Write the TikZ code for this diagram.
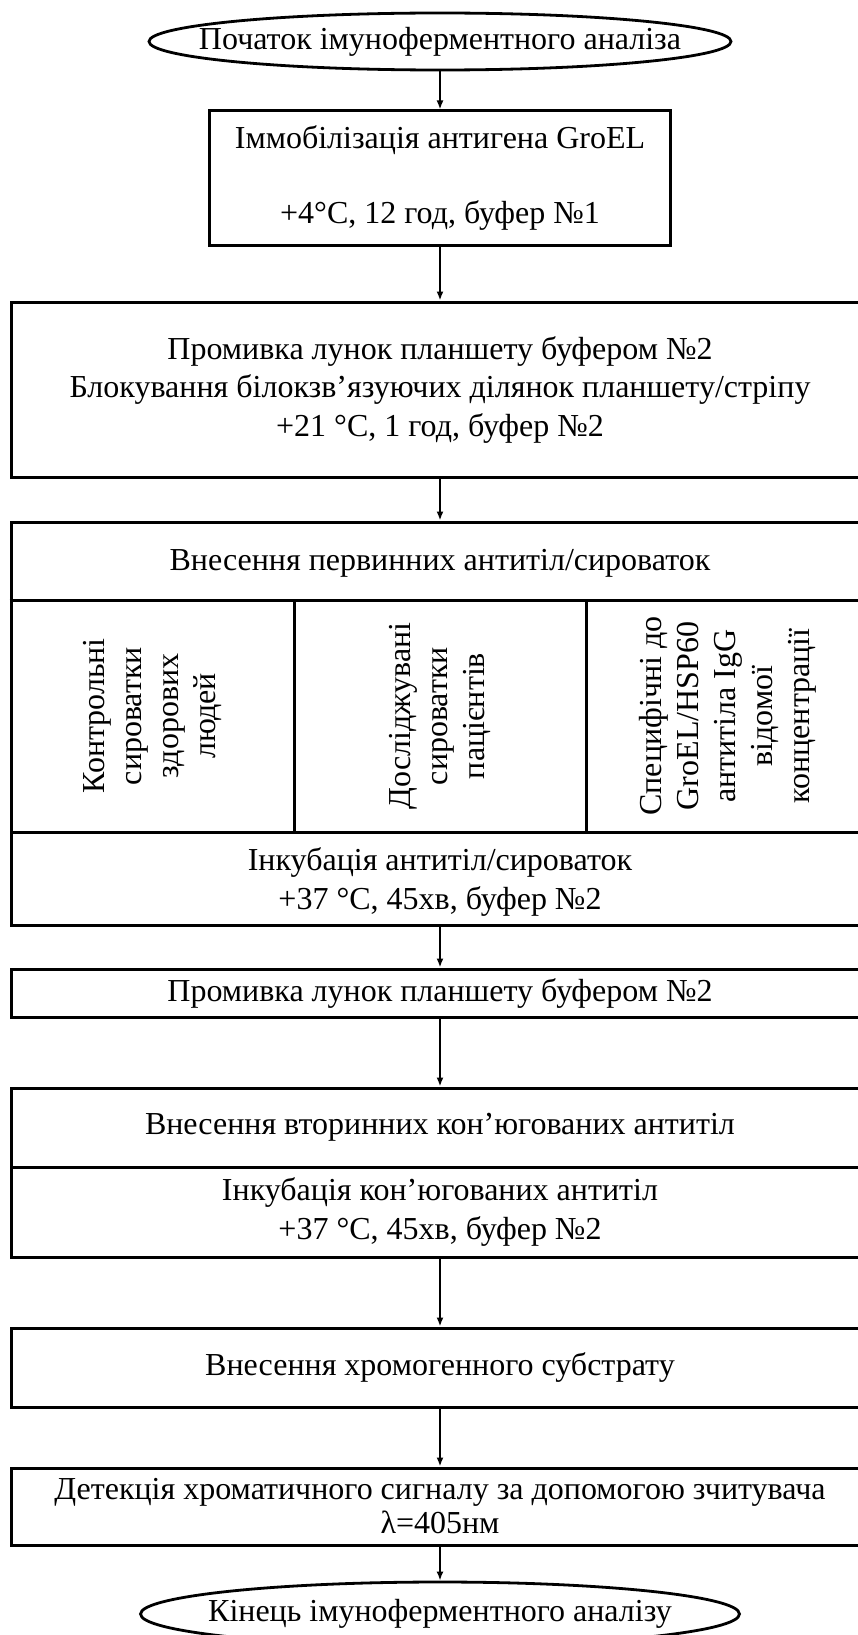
\documentclass[tikz,border=0pt]{standalone}
\usepackage{fontspec}
\setmainfont{Liberation Serif}
\usetikzlibrary{shapes.geometric,arrows.meta}
\begin{document}
\begin{tikzpicture}[x=1pt,y=-1pt,
  box/.style={draw, line width=3pt, inner sep=0pt, align=center, font=\fontsize{32}{38.5}\selectfont},
  oval/.style={draw, ellipse, line width=2.8pt, inner sep=0pt, font=\fontsize{32}{36}\selectfont},
  arr/.style={line width=1.8pt, -{Latex[length=9pt,width=7pt]}},
  txt/.style={inner sep=0pt, align=center, font=\fontsize{32}{39}\selectfont},
  col/.style={draw, line width=3pt, inner sep=0pt, align=center, rotate=90, font=\fontsize{32}{37}\selectfont}
]
\fill[white] (0,0) rectangle (857,1635);
\useasboundingbox (0,0) rectangle (857,1635);

\node[oval, minimum width=582pt, minimum height=57pt] (start) at (440,41.5)
  {\makebox[0pt]{Початок імуноферментного аналіза}};

\node[box, minimum width=461pt, minimum height=134pt] (b1) at (440,178)
  {Іммобілізація антигена GroEL\\[37pt] +4°C, 12 год, буфер №1};

\node[box, minimum width=858pt, minimum height=175pt] (b2) at (440,389.5)
  {Промивка лунок планшету буфером №2\\ Блокування білокзв’язуючих ділянок планшету/стріпу\\ +21 °C, 1 год, буфер №2};

\node[box, minimum width=858pt, minimum height=403pt] (b3) at (440,723.5) {};
\node[txt] (t3) at (440,563) {Внесення первинних антитіл/сироваток};
\draw[line width=3pt] (b3.west |- 0,600) -- (b3.east |- 0,600);
\node[col, minimum width=232pt, minimum height=283pt] (c1) at (152.5,716)
  {Контрольні\\ сироватки\\ здорових\\ людей};
\node[col, minimum width=232pt, minimum height=292pt] (c2) at (440,716)
  {Досліджувані\\ сироватки\\ пацієнтів};
\node[col, minimum width=232pt, minimum height=283pt] (c3) at (727.5,716)
  {Специфічні до\\ GroEL/HSP60\\ антитіла IgG\\ відомої\\ концентрації};
\node[txt] (t3b) at (440,882) {Інкубація антитіл/сироваток\\ +37 °C, 45хв, буфер №2};

\node[box, minimum width=858pt, minimum height=48pt] (b4) at (440,993)
  {Промивка лунок планшету буфером №2};

\node[box, minimum width=858pt, minimum height=79pt] (b5) at (440,1127.5)
  {Внесення вторинних кон’югованих антитіл};

\node[box, minimum width=858pt, minimum height=90pt] (b6) at (440,1212)
  {Інкубація кон’югованих антитіл\\ +37 °C, 45хв, буфер №2};

\node[box, minimum width=858pt, minimum height=79pt] (b7) at (440,1367.5)
  {Внесення хромогенного субстрату};

\node[box, minimum width=858pt, minimum height=77pt, font=\fontsize{32}{34}\selectfont] (b8) at (440,1506.5)
  {Детекція хроматичного сигналу за допомогою зчитувача\\ λ=405нм};

\node[oval, minimum width=599pt, minimum height=64pt] (end) at (440,1614)
  {\makebox[0pt]{Кінець імуноферментного аналізу}};

\draw[arr] (start) -- (b1);
\draw[arr] (b1) -- (b2);
\draw[arr] (b2) -- (b3);
\draw[arr] (b3) -- (b4);
\draw[arr] (b4) -- (b5);
\draw[arr] (b6) -- (b7);
\draw[arr] (b7) -- (b8);
\draw[arr] (b8) -- (end);
\end{tikzpicture}
\end{document}
